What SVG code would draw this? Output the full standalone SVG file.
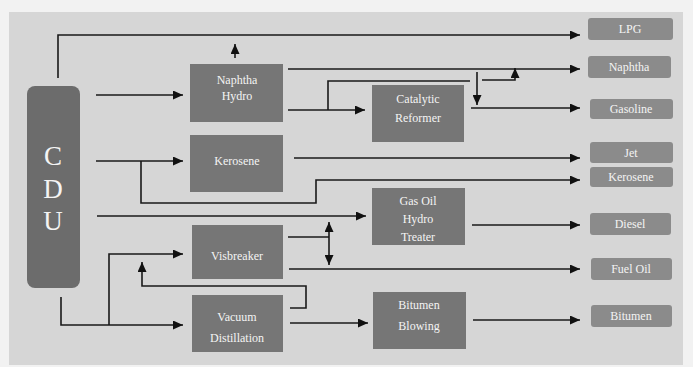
<svg xmlns="http://www.w3.org/2000/svg" width="693" height="367" viewBox="0 0 693 367">
<defs>
<marker id="ah" markerWidth="10" markerHeight="9" refX="10" refY="4.5" orient="auto" markerUnits="userSpaceOnUse">
<path d="M0,0 L10,4.5 L0,9 z" fill="#111"/>
</marker>
<marker id="ahs" markerWidth="10" markerHeight="9" refX="0" refY="4.5" orient="auto" markerUnits="userSpaceOnUse">
<path d="M10,0 L0,4.5 L10,9 z" fill="#111"/>
</marker>
</defs>
<style>
.bg{fill:#d6d6d6}
.proc{fill:#767676}
.cdu{fill:#6c6c6c}
.out{fill:#8b8b8b}
.t{font-family:"Liberation Serif","Times New Roman",serif;fill:#f4f4f4;text-anchor:middle;font-size:12px}
.big{font-size:27px}
.c{fill:none;stroke:#1a1a1a;stroke-width:1.6}
.a{marker-end:url(#ah)}
</style>
<rect x="0" y="0" width="693" height="367" fill="#f2f2f2"/>
<rect class="bg" x="9" y="12" width="674" height="353"/>

<g id="connectors">
<path class="c a" d="M58,78 V35 H580"/>
<path class="c a" d="M235,58 V44"/>
<path class="c a" d="M96,95 H183"/>
<path class="c a" d="M288,69 H580"/>
<path class="c a" d="M288,110 H365"/>
<path class="c" d="M328,110 V81 H470"/>
<path class="c a" d="M482,80 H515 V68"/>
<path class="c a" d="M477,72 V105"/>
<path class="c a" d="M471,108 H580"/>
<path class="c a" d="M96,161 H183"/>
<path class="c a" d="M141,161 V203 H316 V180 H580"/>
<path class="c a" d="M294,158 H580"/>
<path class="c a" d="M97,216 H366"/>
<path class="c a" d="M472,225 H580"/>
<path class="c" d="M288,237 H329"/>
<path class="c a" d="M329,237 V222"/>
<path class="c a" d="M329,237 V265"/>
<path class="c a" d="M289,269 H580"/>
<path class="c a" d="M61,297 V325 H183"/>
<path class="c a" d="M109,325 V254 H183"/>
<path class="c a" d="M290,308 H306 V286 H142 V262"/>
<path class="c a" d="M290,323 H368"/>
<path class="c a" d="M473,320 H580"/>
</g>

<g id="cdu">
<rect class="cdu" x="27" y="86" width="53" height="202" rx="8"/>
<text class="t big" x="53" y="165">C</text>
<text class="t big" x="53" y="198">D</text>
<text class="t big" x="53" y="230">U</text>
</g>
<g id="naphtha-hydro">
<rect class="proc" x="190" y="64" width="93" height="58"/>
<text class="t" x="237" y="84">Naphtha</text>
<text class="t" x="237" y="100">Hydro</text>
</g>
<g id="kerosene">
<rect class="proc" x="190" y="135" width="93" height="57"/>
<text class="t" x="237" y="165">Kerosene</text>
</g>
<g id="visbreaker">
<rect class="proc" x="192" y="225" width="91" height="54"/>
<text class="t" x="237" y="260">Visbreaker</text>
</g>
<g id="vacuum-distillation">
<rect class="proc" x="192" y="295" width="91" height="57"/>
<text class="t" x="237" y="321">Vacuum</text>
<text class="t" x="237" y="342">Distillation</text>
</g>
<g id="catalytic-reformer">
<rect class="proc" x="372" y="85" width="92" height="57"/>
<text class="t" x="418" y="103">Catalytic</text>
<text class="t" x="418" y="122">Reformer</text>
</g>
<g id="gas-oil-hydro-treater">
<rect class="proc" x="372" y="188" width="93" height="57"/>
<text class="t" x="418" y="205">Gas Oil</text>
<text class="t" x="418" y="223">Hydro</text>
<text class="t" x="418" y="241">Treater</text>
</g>
<g id="bitumen-blowing">
<rect class="proc" x="373" y="292" width="93" height="57"/>
<text class="t" x="419" y="309">Bitumen</text>
<text class="t" x="419" y="330">Blowing</text>
</g>

<g id="out-lpg"><rect class="out" x="588" y="18" width="85" height="22" rx="3"/><text class="t" x="630" y="33">LPG</text></g>
<g id="out-naphtha"><rect class="out" x="588" y="56" width="83" height="22" rx="3"/><text class="t" x="629" y="71">Naphtha</text></g>
<g id="out-gasoline"><rect class="out" x="590" y="99" width="83" height="20" rx="3"/><text class="t" x="631" y="113">Gasoline</text></g>
<g id="out-jet"><rect class="out" x="590" y="142" width="83" height="21" rx="3"/><text class="t" x="631" y="157">Jet</text></g>
<g id="out-kerosene"><rect class="out" x="590" y="167" width="83" height="20" rx="3"/><text class="t" x="631" y="181">Kerosene</text></g>
<g id="out-diesel"><rect class="out" x="590" y="213" width="81" height="22" rx="3"/><text class="t" x="630" y="228">Diesel</text></g>
<g id="out-fuel-oil"><rect class="out" x="591" y="258" width="81" height="22" rx="3"/><text class="t" x="631" y="273">Fuel Oil</text></g>
<g id="out-bitumen"><rect class="out" x="591" y="305" width="81" height="22" rx="3"/><text class="t" x="631" y="320">Bitumen</text></g>
</svg>
